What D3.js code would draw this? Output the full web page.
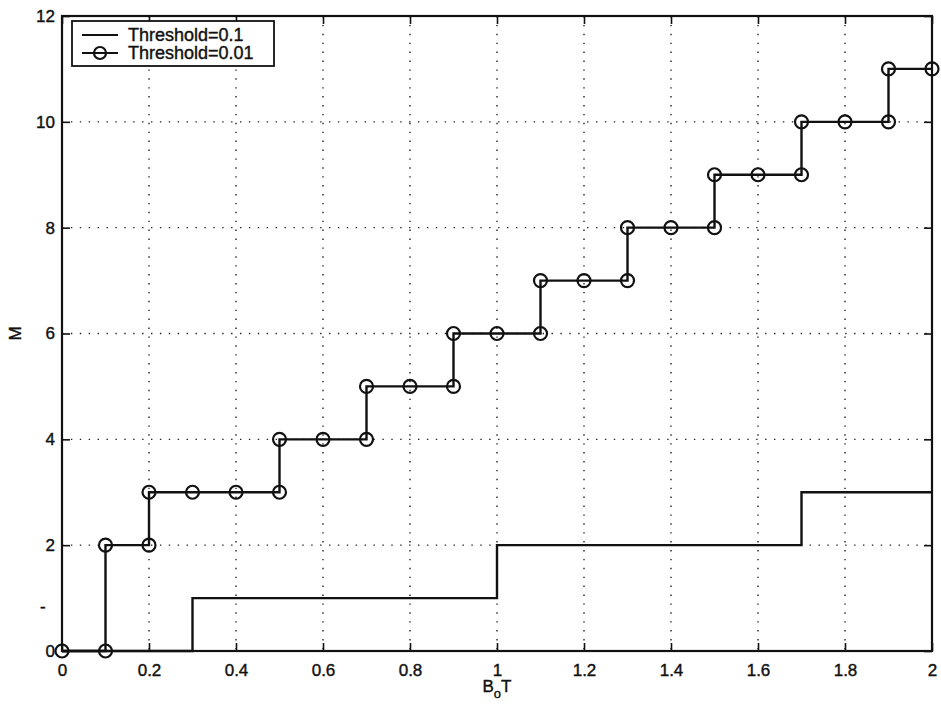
<!DOCTYPE html>
<html>
<head>
<meta charset="utf-8">
<script src="https://cdn.jsdelivr.net/npm/d3@7"></script>
<style>
  body { margin: 0; background: #fff; }
  text { font-family: "Liberation Sans", Arial, sans-serif; fill: #111; }
  .tick-label { font-size: 17px; stroke: #111; stroke-width: 0.4px; }
</style>
</head>
<body>
<svg id="chart" width="941" height="705"></svg>
<script>
// Threshold=0.1 step curve
const coarseX = [0, 0.3, 0.3, 1.0, 1.0, 1.7, 1.7, 2.0]
const coarseM = [0, 0, 1, 1, 2, 2, 3, 3]
// Threshold=0.01 curve, one circle per point
const fineX = [0, 0.1, 0.1, 0.2, 0.2, 0.3, 0.4, 0.5, 0.5, 0.6, 0.7, 0.7, 0.8, 0.9, 0.9, 1.0,
               1.1, 1.1, 1.2, 1.3, 1.3, 1.4, 1.5, 1.5, 1.6, 1.7, 1.7, 1.8, 1.9, 1.9, 2.0]
const fineM = [0, 0, 2, 2, 3, 3, 3, 3, 4, 4, 4, 5, 5, 5, 6, 6,
               6, 7, 7, 7, 8, 8, 8, 9, 9, 9, 10, 10, 10, 11, 11]
const xTicks = [0, 0.2, 0.4, 0.6, 0.8, 1, 1.2, 1.4, 1.6, 1.8, 2]
const yTicks = [0, 2, 4, 6, 8, 10, 12]
const legendLabels = ['Threshold=0.1', 'Threshold=0.01']

const svg = d3.select('#chart')
const plotLeft = 62, plotRight = 932, plotTop = 16, plotBottom = 651

const x = d3.scaleLinear().domain([0, 2]).range([plotLeft, plotRight])
const y = d3.scaleLinear().domain([0, 12]).range([plotBottom, plotTop])

// dotted grid
const grid = svg.append('g').attr('stroke', '#222').attr('stroke-width', 1.4)
    .attr('stroke-dasharray', '1.4,7.5')
grid.selectAll('.gx').data(xTicks.slice(1, -1)).enter().append('line')
    .attr('x1', d => x(d)).attr('x2', d => x(d)).attr('y1', plotTop).attr('y2', plotBottom)
grid.selectAll('.gy').data(yTicks.slice(1, -1)).enter().append('line')
    .attr('y1', d => y(d)).attr('y2', d => y(d)).attr('x1', plotLeft).attr('x2', plotRight)

// axes, ticks inside
const fmt = d => d === 0 ? '0' : String(d)
svg.append('g').attr('transform', `translate(0,${plotBottom})`)
    .call(d3.axisBottom(x).tickValues(xTicks).tickSize(-8).tickPadding(13).tickFormat(fmt))
svg.append('g').attr('transform', `translate(0,${plotTop})`)
    .call(d3.axisTop(x).tickValues(xTicks).tickSize(-8).tickFormat(''))
svg.append('g').attr('transform', `translate(${plotLeft},0)`)
    .call(d3.axisLeft(y).tickValues(yTicks).tickSize(-8).tickPadding(7).tickFormat(fmt))
svg.append('g').attr('transform', `translate(${plotRight},0)`)
    .call(d3.axisRight(y).tickValues(yTicks).tickSize(-8).tickFormat(''))
svg.selectAll('.domain').remove()
svg.selectAll('.tick line').attr('stroke', '#111').attr('stroke-width', 1.6)
svg.selectAll('.tick text').attr('class', 'tick-label').attr('font-family', null).attr('font-size', null)

svg.append('rect').attr('x', plotLeft).attr('y', plotTop)
    .attr('width', plotRight - plotLeft).attr('height', plotBottom - plotTop)
    .attr('fill', 'none').attr('stroke', '#111').attr('stroke-width', 2.2)

// stray scan mark next to the y axis
svg.append('text').attr('x', 40).attr('y', y(1) + 14).attr('class', 'tick-label').text('-')

const line = d3.line().x(d => x(d[0])).y(d => y(d[1]))
const coarse = coarseX.map((v, i) => [v, coarseM[i]])
const fine = fineX.map((v, i) => [v, fineM[i]])

svg.append('path').datum(coarse).attr('d', line)
    .attr('fill', 'none').attr('stroke', '#111').attr('stroke-width', 2.4)
svg.append('path').datum(fine).attr('d', line)
    .attr('fill', 'none').attr('stroke', '#111').attr('stroke-width', 2.4)
svg.selectAll('.mk').data(fine).enter().append('circle')
    .attr('cx', d => x(d[0])).attr('cy', d => y(d[1])).attr('r', 6.5)
    .attr('fill', 'none').attr('stroke', '#111').attr('stroke-width', 2.2)

// axis titles
const xl = svg.append('text').attr('x', 497).attr('y', 692).attr('text-anchor', 'middle')
    .attr('class', 'tick-label')
xl.append('tspan').text('B')
xl.append('tspan').style('font-size', '13px').attr('dy', 6).text('o')
xl.append('tspan').attr('dy', -6).text('T')
svg.append('text').attr('class', 'tick-label').attr('text-anchor', 'middle')
    .attr('transform', `translate(21,${y(6)}) rotate(-90)`).text('M')

// legend
const lg = svg.append('g').attr('transform', 'translate(72,21)')
lg.append('rect').attr('width', 202).attr('height', 45)
    .attr('fill', '#fff').attr('stroke', '#111').attr('stroke-width', 1.8)
legendLabels.forEach((lab, i) => {
    const ly = 14 + i * 18
    lg.append('line').attr('x1', 10).attr('x2', 46).attr('y1', ly).attr('y2', ly)
        .attr('stroke', '#111').attr('stroke-width', 2.2)
    if (i === 1) {
        lg.append('circle').attr('cx', 28).attr('cy', ly).attr('r', 6)
            .attr('fill', 'none').attr('stroke', '#111').attr('stroke-width', 2.2)
    }
    lg.append('text').attr('x', 56).attr('y', ly + 6).attr('class', 'tick-label')
        .style('font-size', '18px').text(lab)
})
</script>
</body>
</html>
